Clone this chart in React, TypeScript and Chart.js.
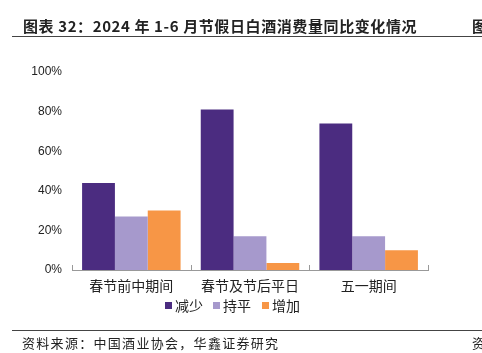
import React, { useEffect, useRef } from "react";
import { Chart, registerables } from "chart.js";

Chart.register(...registerables);

const categories = ["春节前中期间", "春节及节后平日", "五一期间"];
const seriesNames = ["减少", "持平", "增加"];
const decrease = [44, 81, 74];
const flat = [27, 17, 17];
const increase = [30, 3.5, 10];
const yTicks = [0, 20, 40, 60, 80, 100];
const colors = ["#4B2C80", "#A699CC", "#F79646"];

const CJK = '"Noto Sans CJK SC", "Noto Sans", sans-serif';

const innerTicks = {
  id: "innerTicks",
  afterDatasetsDraw(chart: any) {
    const x = chart.scales.x;
    const ctx = chart.ctx;
    const bottom = chart.chartArea.bottom;
    const n = categories.length;
    const half = (x.getPixelForValue(1) - x.getPixelForValue(0)) / 2;
    ctx.save();
    ctx.strokeStyle = "#999999";
    ctx.lineWidth = 1;
    for (let i = 0; i <= n; i++) {
      const px = Math.round(x.getPixelForValue(Math.min(i, n - 1)) + (i === n ? half : -half)) + 0.5;
      ctx.beginPath();
      ctx.moveTo(px, bottom);
      ctx.lineTo(px, bottom - 5);
      ctx.stroke();
    }
    ctx.restore();
  },
};

export default function App() {
  const ref = useRef<HTMLCanvasElement>(null);
  useEffect(() => {
    if (!ref.current) return;
    const data = [decrease, flat, increase];
    const chart = new Chart(ref.current, {
      type: "bar",
      data: {
        labels: categories,
        datasets: seriesNames.map((name, i) => ({
          label: name,
          data: data[i],
          backgroundColor: colors[i],
          borderWidth: 0,
          barPercentage: 1,
          categoryPercentage: 0.83,
        })),
      },
      options: {
        responsive: false,
        animation: false,
        devicePixelRatio: 1,
        layout: { padding: { left: 0, right: 54, top: 72, bottom: 56 } },
        plugins: {
          tooltip: { enabled: false },
          legend: { display: false },
        },
        scales: {
          x: {
            grid: { display: false, drawTicks: false },
            border: { display: true, color: "#999999", width: 1 },
            ticks: { color: "#222", font: { family: CJK, size: 14 }, padding: 7 },
            afterFit: (s: any) => {
              s.height = 27;
            },
          },
          y: {
            min: 0,
            max: 100,
            grid: { display: false, drawTicks: false },
            border: { display: false },
            afterBuildTicks: (s: any) => {
              s.ticks = yTicks.map((v) => ({ value: v }));
            },
            ticks: {
              color: "#222",
              font: { family: '"Liberation Sans", Arial, sans-serif', size: 12 },
              padding: 10,
              callback: (v: any) => v + "%",
            },
            afterFit: (s: any) => {
              s.width = 72;
            },
          },
        },
      },
      plugins: [innerTicks],
    });
    return () => chart.destroy();
  }, []);

  const legendX = [165, 213, 262];

  return (
    <div style={{ position: "absolute", left: 0, top: 0, width: 482, height: 353, background: "#fff", overflow: "hidden" }}>
      <canvas ref={ref} width={482} height={353} style={{ position: "absolute", left: 0, top: 0 }} />
      {seriesNames.map((name, i) => (
        <div key={name} style={{ position: "absolute", left: legendX[i], top: 296, height: 18, display: "flex", alignItems: "center", whiteSpace: "nowrap" }}>
          <span style={{ display: "inline-block", width: 7, height: 7, background: colors[i], marginRight: 3 }} />
          <span style={{ fontFamily: CJK, fontSize: 14, color: "#222" }}>{name}</span>
        </div>
      ))}
      <div style={{ position: "absolute", left: 23, top: 15, fontFamily: CJK, fontWeight: 700, fontSize: 15, color: "#222", whiteSpace: "nowrap", letterSpacing: 0.6 }}>
        图表 32：2024 年 1-6 月节假日白酒消费量同比变化情况
      </div>
      <div style={{ position: "absolute", left: 472, top: 15, fontFamily: CJK, fontWeight: 700, fontSize: 15, color: "#222", whiteSpace: "nowrap" }}>
        图
      </div>
      <div style={{ position: "absolute", left: 12, top: 36, width: 470, height: 0, borderTop: "1.5px solid #444" }} />
      <div style={{ position: "absolute", left: 12, top: 330, width: 470, height: 0, borderTop: "1.5px solid #444" }} />
      <div style={{ position: "absolute", left: 22, top: 333, fontFamily: CJK, fontSize: 13, color: "#222", whiteSpace: "nowrap", letterSpacing: 1.3 }}>
        资料来源：中国酒业协会，华鑫证券研究
      </div>
      <div style={{ position: "absolute", left: 472, top: 333, fontFamily: CJK, fontSize: 13, color: "#222", whiteSpace: "nowrap" }}>
        资
      </div>
    </div>
  );
}
